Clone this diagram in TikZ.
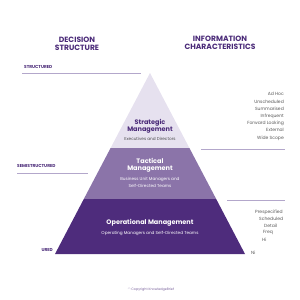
\documentclass[tikz,border=0pt]{standalone}
\usepackage{fontspec}
\setmainfont{Poppins}
\definecolor{deeppurple}{HTML}{4E2C7C}
\definecolor{midpurple}{HTML}{8B74A9}
\definecolor{palepurple}{HTML}{E6E1EF}
\definecolor{headpurple}{HTML}{4A2A78}
\definecolor{rulepurple}{HTML}{B3A7CB}
\begin{document}
\begin{tikzpicture}[x=1pt,y=-1pt,
  heading/.style={align=center,font=\fontsize{7.6}{8.2}\selectfont\bfseries,text=headpurple,inner sep=0pt},
  levelname/.style={align=center,font=\fontsize{6.5}{7}\selectfont\bfseries,inner sep=0pt},
  levelsub/.style={align=center,font=\fontsize{4.2}{7}\selectfont,inner sep=0pt},
  sidetag/.style={font=\fontsize{4.3}{5}\selectfont\bfseries,text=headpurple,inner sep=0pt},
  infoitem/.style={font=\fontsize{4.5}{7.2}\selectfont,text=black!65,inner sep=0pt},
  rule/.style={draw=rulepurple,line width=0.6pt}]
\useasboundingbox (0,0) rectangle (300,300);

% pyramid
\fill[palepurple] (150,73) -- (189.4,148) -- (110.6,148) -- cycle;
\fill[midpurple] (110.6,148) -- (189.4,148) -- (216.2,199) -- (83.8,199) -- cycle;
\fill[deeppurple] (83.8,199) -- (216.2,199) -- (245,254) -- (55,254) -- cycle;

% headings
\node[heading] (decision) at (77,44) {DECISION\\STRUCTURE};
\node[heading] (information) at (220,43) {INFORMATION\\CHARACTERISTICS};

% levels
\node[levelname,text=headpurple] (strategic) at (150,126) {Strategic\\Management};
\node[levelsub,text=black!70] (executives) at (150,139) {Executives and Directors};
\node[levelname,text=white] (tactical) at (150,165.5) {Tactical\\Management};
\node[levelsub,text=white] (unitmgrs) at (150,182.5) {Business Unit Managers and\\Self-Directed Teams};
\node[levelname,text=white] (operational) at (150,223) {Operational Management};
\node[levelsub,text=white] (opmgrs) at (150,233) {Operating Managers and Self-Directed Teams};

% left side
\node[sidetag,anchor=west] (structured) at (24,67) {STRUCTURED};
\draw[rule] (22,73) -- (141,73);
\node[sidetag,anchor=west] (semi) at (17,166) {SEMISTRUCTURED};
\draw[rule] (17,173) -- (88,173);
\node[sidetag,anchor=east] (ured) at (53,250) {URED};

% right side
\node[infoitem,anchor=east,align=right] (toplist) at (284,116.5)
  {Ad Hoc\\Unscheduled\\Summarised\\Infrequent\\Forward Looking\\External\\Wide Scope};
\draw[rule] (201,149) -- (285,149);
\draw[rule] (227,200) -- (285,200);
\node[infoitem,anchor=west] (prespec) at (255,212) {Prespecified};
\node[infoitem,anchor=west] (sched) at (259,219) {Scheduled};
\node[infoitem,anchor=west] (detail) at (264,226) {Detail};
\node[infoitem,anchor=west] (freq) at (263,233) {Freq};
\node[infoitem,anchor=west] (hist) at (262,240) {Hi};
\node[infoitem,anchor=west] (narrow) at (251,253) {Ni};

\node[font=\fontsize{3.3}{4}\selectfont,text=headpurple!75] (copy) at (151,290) {© Copyright KnowledgeBrief};
\end{tikzpicture}
\end{document}
